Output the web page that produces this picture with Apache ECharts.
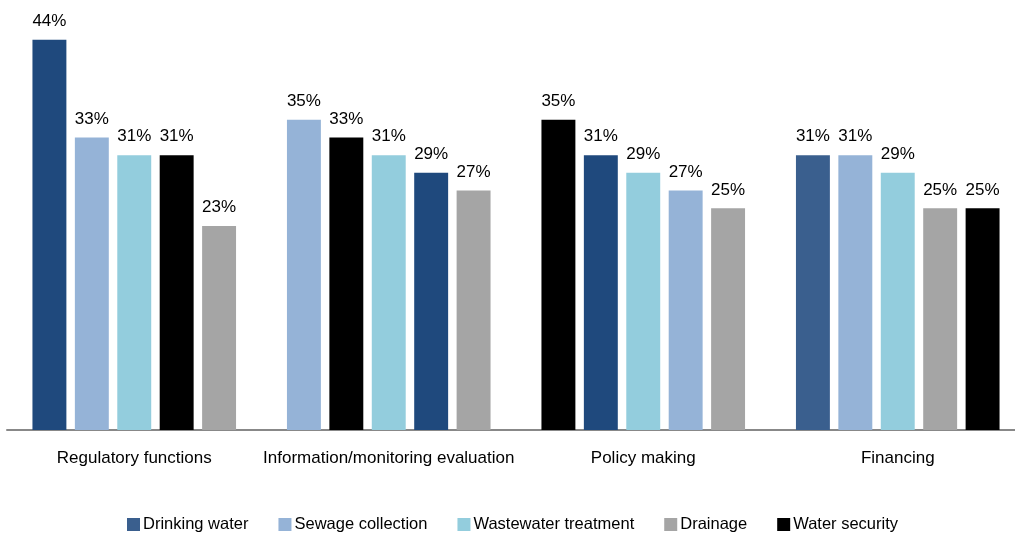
<!DOCTYPE html>
<html>
<head>
<meta charset="utf-8">
<script src="https://cdn.jsdelivr.net/npm/echarts@6/dist/echarts.min.js"></script>
<style>
  html, body { margin: 0; padding: 0; background: #ffffff; }
  #chart { width: 1015px; height: 536px; }
</style>
</head>
<body>
<div id="chart"></div>
<script>
// Functions and the share (%) reported for each service area
const categories = ['Regulatory functions', 'Information/monitoring evaluation', 'Policy making', 'Financing'];
const seriesNames = ['Drinking water', 'Sewage collection', 'Wastewater treatment', 'Drainage', 'Water security'];
const drinkingWater = [44, 29, 31, 31];
const sewageCollection = [33, 35, 27, 31];
const wastewaterTreatment = [31, 31, 29, 29];
const drainage = [23, 27, 25, 25];
const waterSecurity = [31, 33, 35, 25];

const seriesValues = [drinkingWater, sewageCollection, wastewaterTreatment, drainage, waterSecurity];
const seriesColors = ['#3a5f8e', '#95b3d7', '#93cddd', '#a5a5a5', '#000000'];
const drinkingDark = '#1f497d';

// Within each function, bars are ordered from highest to lowest share
const ranks = seriesValues.map(() => []);
categories.forEach((_, c) => {
  const order = seriesValues.map((vals, s) => s)
    .sort((a, b) => seriesValues[b][c] - seriesValues[a][c] || a - b);
  order.forEach((s, r) => { ranks[s][c] = r; });
});

const SLOTS = 6;
const FONT = 'Liberation Sans, Arial, sans-serif';

function renderBar(params, api) {
  const c = api.value(0);
  const v = api.value(1);
  const rank = api.value(2);
  const base = api.coord([c, 0]);
  const top = api.coord([c, v]);
  const band = api.size([1, 0])[0];
  const slot = band / SLOTS;
  const barW = slot * 0.8;
  const cx = base[0] + (rank - 2) * slot;
  return {
    type: 'group',
    children: [
      {
        type: 'rect',
        shape: { x: cx - barW / 2, y: top[1], width: barW, height: base[1] - top[1] },
        style: { fill: api.visual('color') }
      },
      {
        type: 'text',
        style: {
          text: v + '%', x: cx, y: top[1] - 10,
          align: 'center', verticalAlign: 'bottom',
          font: '17px ' + FONT, fill: '#000000'
        }
      }
    ]
  };
}

const series = seriesNames.map((name, s) => ({
  name: name,
  type: 'custom',
  renderItem: renderBar,
  itemStyle: { color: seriesColors[s] },
  encode: { x: 0, y: 1 },
  data: seriesValues[s].map((v, c) => {
    const item = { value: [c, v, ranks[s][c]] };
    if (s === 0 && c < 3) item.itemStyle = { color: drinkingDark };
    return item;
  })
}));

const chart = echarts.init(document.getElementById('chart'), null, { renderer: 'canvas' });
chart.setOption({
  animation: false,
  backgroundColor: '#ffffff',
  grid: { left: 7, right: -10, top: 31, bottom: 106, containLabel: false, outerBoundsMode: 'none' },
  xAxis: {
    type: 'category',
    data: categories,
    axisLine: { show: true, lineStyle: { color: '#888888', width: 2 } },
    axisTick: { show: false },
    axisLabel: { margin: 20, color: '#000000', fontSize: 17, fontFamily: FONT, interval: 0 }
  },
  yAxis: {
    type: 'value', min: 0, max: 45,
    show: false, splitLine: { show: false }
  },
  legend: {
    data: seriesNames,
    left: 127,
    top: 516,
    padding: 0,
    icon: 'rect',
    itemWidth: 13,
    itemHeight: 13,
    itemGap: 30,
    textStyle: { color: '#000000', fontSize: 16.5, fontFamily: FONT, padding: [0, 0, 0, -2] }
  },
  series: series
});
</script>
</body>
</html>
